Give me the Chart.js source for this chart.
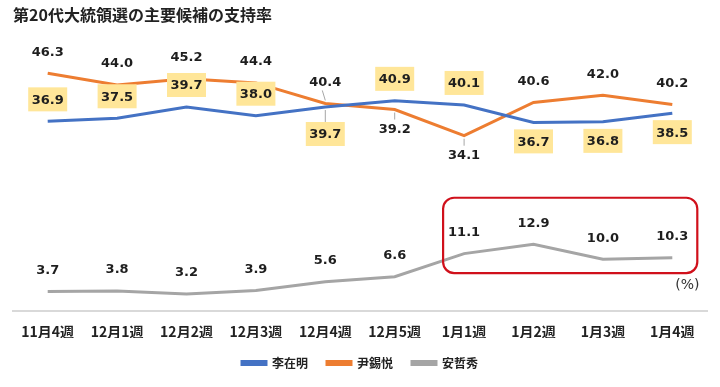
<!DOCTYPE html>
<html>
<head>
<meta charset="utf-8">
<script src="https://cdn.jsdelivr.net/npm/chart.js@4/dist/chart.umd.min.js"></script>
<style>
  html, body { margin: 0; padding: 0; background: #ffffff; }
  #wrap { width: 720px; height: 387px; }
</style>
</head>
<body>
<div id="wrap"><canvas id="c" width="720" height="387"></canvas></div>
<script>
// ---- data ----
const categories = ['11月4週', '12月1週', '12月2週', '12月3週', '12月4週', '12月5週', '1月1週', '1月2週', '1月3週', '1月4週'];
const seriesNames = ['李在明', '尹錫悦', '安哲秀'];
const leeJaeMyung = [36.9, 37.5, 39.7, 38.0, 39.7, 40.9, 40.1, 36.7, 36.8, 38.5];
const yoonSukYeol = [46.3, 44.0, 45.2, 44.4, 40.4, 39.2, 34.1, 40.6, 42.0, 40.2];
const ahnCheolSoo = [3.7, 3.8, 3.2, 3.9, 5.6, 6.6, 11.1, 12.9, 10.0, 10.3];
const titleText = '第20代大統領選の主要候補の支持率';
const unitText = '(%)';

// label placement (-1 above the point, 1 below)
const leeSide  = [-1, -1, -1, -1, 1, -1, -1, 1, 1, 1];
const yoonSide = [-1, -1, -1, -1, -1, 1, 1, -1, -1, -1];
const ahnSide  = [-1, -1, -1, -1, -1, -1, -1, -1, -1, -1];

const COLORS = { blue: '#4472C4', orange: '#ED7D31', gray: '#A5A5A5' };
const NUM_FONT = 'bold 13px "DejaVu Sans", Verdana, sans-serif';
const CJK = '"Noto Sans CJK JP", "Noto Sans CJK SC", sans-serif';

const labelPlugin = {
  id: 'valueLabels',
  afterDatasetsDraw(chart) {
    const ctx = chart.ctx;
    const x = chart.scales.x, y = chart.scales.y;
    ctx.save();
    // highlight box around the last four 安哲秀 labels
    const left = x.getPixelForValue(6) - 21;
    const right = x.getPixelForValue(9) + 25;
    const top = y.getPixelForValue(22);
    const bottom = y.getPixelForValue(7.3);
    ctx.beginPath();
    ctx.roundRect(left, top, right - left, bottom - top, 11);
    ctx.lineWidth = 2.2;
    ctx.strokeStyle = '#D0101B';
    ctx.stroke();

    ctx.font = NUM_FONT;
    ctx.textAlign = 'center';
    ctx.textBaseline = 'middle';

    const sides = [leeSide, yoonSide, ahnSide];
    chart.data.datasets.forEach((ds, di) => {
      const meta = chart.getDatasetMeta(di);
      meta.data.forEach((pt, i) => {
        const side = sides[di][i];
        let off = side < 0 ? 22 : 19;
        if (di === 0 && i === 4) off = 27;
        const cx = pt.x, cy = pt.y + side * off;
        const txt = ds.data[i].toFixed(1);
        // leader lines where labels sit away from a crowded point
        const leader = (di === 0 && i === 4) || (di === 1 && (i === 4 || i === 5 || i === 6));
        if (leader) {
          ctx.beginPath();
          ctx.strokeStyle = '#A6A6A6';
          ctx.lineWidth = 1;
          const startY = pt.y + side * 3;
          const endY = cy - side * (di === 0 ? 12 : 9);
          ctx.moveTo(pt.x, startY);
          ctx.lineTo(cx - (di === 1 && i === 4 ? 3 : 0), endY);
          ctx.stroke();
        }
        if (di === 0) {
          ctx.fillStyle = '#FFE699';
          ctx.fillRect(cx - 19.5, cy - 12, 39, 24);
        }
        ctx.fillStyle = '#1E1E1E';
        ctx.fillText(txt, cx, cy + 1);
      });
    });

    // unit
    ctx.fillStyle = '#333333';
    ctx.font = '14px "DejaVu Sans", Verdana, sans-serif';
    ctx.fillText(unitText, x.getPixelForValue(9) + 15, y.getPixelForValue(5));
    ctx.restore();
  }
};

new Chart(document.getElementById('c'), {
  type: 'line',
  data: {
    labels: categories,
    datasets: [
      { label: seriesNames[0], data: leeJaeMyung, borderColor: COLORS.blue, backgroundColor: COLORS.blue, borderWidth: 3, pointRadius: 0, tension: 0 },
      { label: seriesNames[1], data: yoonSukYeol, borderColor: COLORS.orange, backgroundColor: COLORS.orange, borderWidth: 3, pointRadius: 0, tension: 0 },
      { label: seriesNames[2], data: ahnCheolSoo, borderColor: COLORS.gray, backgroundColor: COLORS.gray, borderWidth: 3, pointRadius: 0, tension: 0 }
    ]
  },
  options: {
    responsive: false,
    animation: false,
    devicePixelRatio: 1,
    layout: { padding: { left: 13, right: 13, top: 0, bottom: 8 } },
    scales: {
      x: {
        offset: true,
        grid: { display: false, drawTicks: false },
        border: { display: true, color: '#D9D9D9', width: 2 },
        ticks: { color: '#222222', font: { family: CJK, size: 14, weight: 'bold' }, padding: 13, maxRotation: 0, autoSkip: false },
        afterFit(scale) { scale.height = 27.5; }
      },
      y: { display: false, min: 0, max: 50 }
    },
    plugins: {
      title: {
        display: true, text: titleText, align: 'start', color: '#222222',
        font: { family: CJK, size: 16, weight: 'bold' },
        padding: { top: 5, bottom: 30 }
      },
      legend: {
        position: 'bottom',
        labels: { color: '#222222', font: { family: CJK, size: 12, weight: 'bold' }, boxWidth: 24, boxHeight: 3, padding: 19 }
      },
      tooltip: { enabled: false }
    }
  },
  plugins: [labelPlugin]
});
</script>
</body>
</html>
